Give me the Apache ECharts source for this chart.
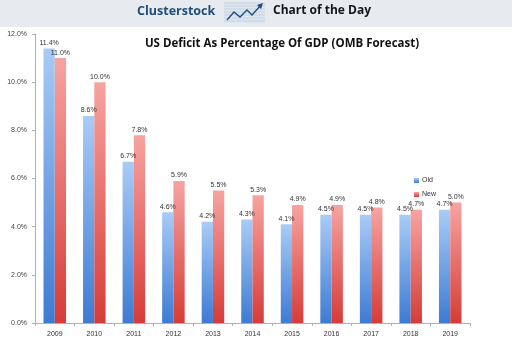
<!DOCTYPE html>
<html>
<head>
<meta charset="utf-8">
<script src="https://cdn.jsdelivr.net/npm/echarts@6/dist/echarts.min.js"></script>
<style>
  html, body { margin: 0; padding: 0; background: #fff; }
  #chart { width: 512px; height: 349px; }
</style>
</head>
<body>
<div id="chart"></div>
<script>
// Fiscal years shown on the category axis
const years = ['2009', '2010', '2011', '2012', '2013', '2014', '2015', '2016', '2017', '2018', '2019'];
// Deficit as % of GDP: earlier OMB projection vs. revised projection
const oldValues = [11.4, 8.6, 6.7, 4.6, 4.2, 4.3, 4.1, 4.5, 4.5, 4.5, 4.7];
const newValues = [11.0, 10.0, 7.8, 5.9, 5.5, 5.3, 4.9, 4.9, 4.8, 4.7, 5.0];
const seriesNames = ['Old', 'New'];
const chartTitle = 'US Deficit As Percentage Of GDP (OMB Forecast)';

function grad(top, bottom) {
  return { type: 'linear', x: 0, y: 0, x2: 0, y2: 1,
    colorStops: [{ offset: 0, color: top }, { offset: 1, color: bottom }] };
}

const pctLabel = {
  show: true, position: 'top', distance: 2,
  fontSize: 7, color: '#333', fontFamily: 'Liberation Sans',
  formatter: p => p.value.toFixed(1) + '%'
};

const chart = echarts.init(document.getElementById('chart'), null, { renderer: 'canvas' });
chart.setOption({
  animation: false,
  backgroundColor: '#ffffff',
  textStyle: { fontFamily: 'Liberation Sans' },
  title: {
    text: chartTitle,
    left: 277, top: 33, textAlign: 'center',
    textStyle: { fontSize: 11.5, fontWeight: 'bold', color: '#111', fontFamily: 'Open Sans' }
  },
  legend: {
    orient: 'vertical', left: 409, top: 172,
    itemWidth: 5, itemHeight: 5, itemGap: 7,
    icon: 'rect',
    textStyle: { fontSize: 7, color: '#333', padding: [0, 0, 0, -2] },
    data: seriesNames
  },
  grid: { left: 35, right: 42, top: 34, bottom: 26, containLabel: false },
  xAxis: {
    type: 'category', data: years,
    axisLine: { lineStyle: { color: '#b0b0b0' } },
    axisTick: { show: true, length: 3, lineStyle: { color: '#b0b0b0' } },
    axisLabel: { fontSize: 7, color: '#333', margin: 8 }
  },
  yAxis: {
    type: 'value', min: 0, max: 12, interval: 2,
    splitLine: { show: false },
    axisLine: { show: true, lineStyle: { color: '#b0b0b0' } },
    axisTick: { show: true, length: 3, lineStyle: { color: '#b0b0b0' } },
    axisLabel: { fontSize: 7, color: '#444', margin: 8, formatter: v => v.toFixed(1) + '%' }
  },
  series: [
    {
      name: seriesNames[0], type: 'bar', data: oldValues,
      barGap: '0%', barCategoryGap: '43%',
      itemStyle: { color: grad('#a9cbf6', '#3d7bd3') },
      label: pctLabel
    },
    {
      name: seriesNames[1], type: 'bar', data: newValues,
      itemStyle: { color: grad('#f7a3a0', '#d63c38') },
      label: pctLabel
    }
  ],
  graphic: [
    { type: 'rect', shape: { x: 0, y: 0, width: 512, height: 27 }, style: { fill: '#e7ebef' }, z: -1 },
    { type: 'text', left: 137, top: 5, style: { text: 'Clusterstock', font: 'bold 12.5px "Open Sans"', fill: '#1f4d7a' } },
    { type: 'text', left: 273, top: 5, style: { text: 'Chart of the Day', font: 'bold 12px "Open Sans"', fill: '#151515' } },
    // little chart icon: ruled box with a rising zig-zag arrow
    { type: 'rect', shape: { x: 224, y: 3, width: 41, height: 20 }, style: { fill: '#dfe6ee' } },
    { type: 'group', children: [3, 6, 9, 12, 15, 18, 21].map(y => ({
        type: 'line', shape: { x1: 224, y1: y, x2: 265, y2: y }, style: { stroke: '#c2d2e4', lineWidth: 1 } })) },
    { type: 'polyline', shape: { points: [[227, 20], [234, 12], [240, 17], [247, 10], [252, 15], [261, 5]] },
      style: { stroke: '#1f4d7a', lineWidth: 1.3, fill: null } },
    { type: 'polygon', shape: { points: [[263, 3], [257, 5], [261, 9]] }, style: { fill: '#1f4d7a' } }
  ]
});
</script>
</body>
</html>
